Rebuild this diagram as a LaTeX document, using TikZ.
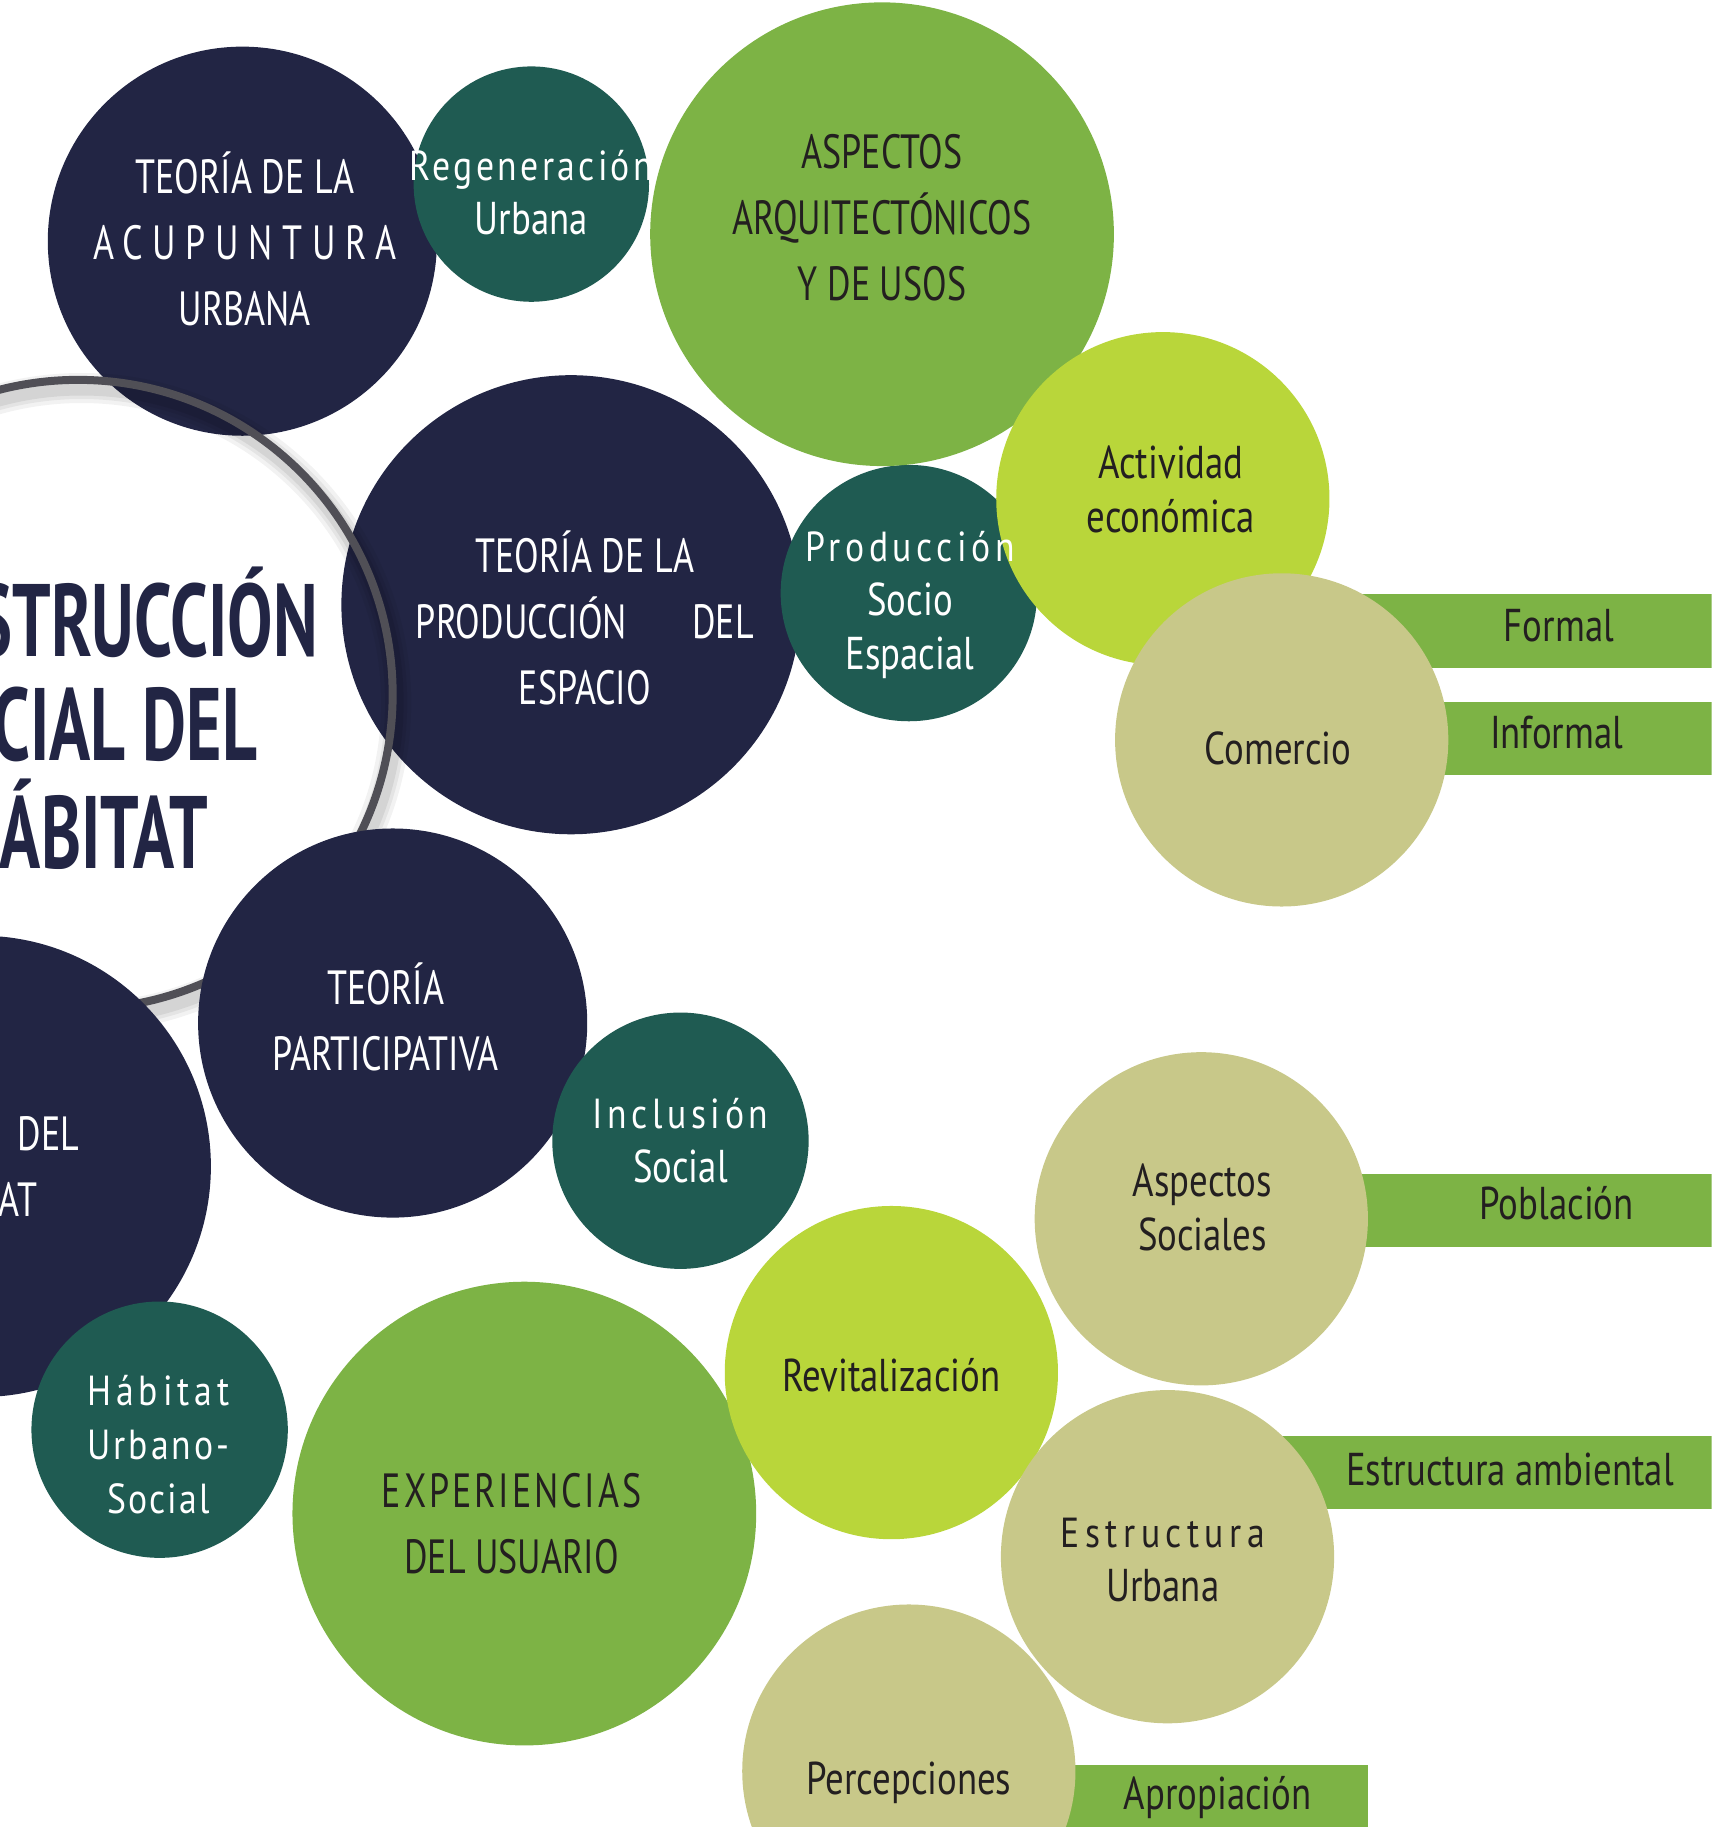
\documentclass[tikz,border=0pt]{standalone}
\usepackage{fontspec}
\setmainfont{PT Sans}
\newfontfamily\fcond[FakeStretch=0.8]{PT Sans}
\newfontfamily\fcaps[FakeStretch=0.75]{PT Sans}
\newfontfamily\fsp[FakeStretch=0.85]{PT Sans}
\newfontfamily\ftitle[FakeStretch=0.66]{PT Sans}
\definecolor{cnavy}{HTML}{222544}
\definecolor{cteal}{HTML}{1F5B52}
\definecolor{cgreen}{HTML}{7DB345}
\definecolor{clime}{HTML}{B9D63A}
\definecolor{ckhaki}{HTML}{C8C889}
\definecolor{cring}{HTML}{504F56}
\definecolor{cdark}{HTML}{231F20}
\begin{document}
\begin{tikzpicture}[x=1.1654pt,y=-1.1654pt,
  bub/.style={circle,inner sep=0pt,fill=#1},
  barbox/.style={rectangle,inner sep=0pt,fill=cgreen,anchor=north west,minimum height=73.4pt},
  wt/.style={text=white,align=center,inner sep=0pt},
  dk/.style={text=cdark,align=center,inner sep=0pt},
  capsf/.style={font=\fcaps\fontsize{48}{66}\selectfont},
  labf/.style={font=\fcond\fontsize{46}{54}\selectfont},
  spf/.style={font=\fsp\fontsize{42}{54}\selectfont},
  titf/.style={font=\ftitle\bfseries\fontsize{103}{107}\selectfont,text=cnavy,inner sep=0pt,anchor=base east}
]
\useasboundingbox (0,0) rectangle (1469,1568);
\clip (0,0) rectangle (1469,1568);

% bars
\node[barbox,minimum width=443pt] (barF) at (1100,510) {};
\node[barbox,minimum width=443pt] (barI) at (1100,602) {};
\node[barbox,minimum width=443pt] (barP) at (1100,1007) {};
\node[barbox,minimum width=501pt] (barE) at (1050,1232) {};
\node[barbox,minimum width=377.6pt,minimum height=80pt] (barA) at (850,1515) {};

% navy circles (behind ring)
\node[bub=cnavy,minimum size=389.2pt] (acu) at (208,207) {};
\node[bub=cnavy,minimum size=459.2pt] (pde) at (490,519) {};

% ring with soft shadow
\foreach \w/\o in {30/0.05,22/0.06,15/0.07}
  \draw[line width=\w pt,draw=black,opacity=\o] (70,603) circle (270);
\node[circle,draw=cring,line width=8pt,inner sep=0pt,minimum size=629.3pt] (ring) at (67,596) {};

% title
\node[titf] (t1) at (273,563) {CONSTRUCCIÓN};
\node[titf] (t2) at (221,653) {SOCIAL DEL};
\node[titf] (t3) at (179,745) {HÁBITAT};

% navy circles (over ring)
\node[bub=cnavy,minimum size=389.2pt] (par) at (337,878) {};
\node[bub=cnavy,minimum size=461.5pt] (hab) at (-17,1001) {};

% teal
\node[bub=cteal,minimum size=235.4pt] (reg) at (456,158) {};
\node[bub=cteal,minimum size=256.4pt] (pse) at (780,509) {};
\node[bub=cteal,minimum size=256.4pt] (inc) at (584,979) {};
\node[bub=cteal,minimum size=256.4pt] (hus) at (137,1227) {};

% green
\node[bub=cgreen,minimum size=463.8pt] (asp) at (757,201) {};
\node[bub=cgreen,minimum size=463.8pt] (exp) at (450,1299) {};

% lime
\node[bub=clime,minimum size=333.3pt] (act) at (998,428) {};
\node[bub=clime,minimum size=333.3pt] (rev) at (765,1178) {};

% khaki
\node[bub=ckhaki,minimum size=333.3pt] (com) at (1100,635) {};
\node[bub=ckhaki,minimum size=333.3pt] (aso) at (1031,1046) {};
\node[bub=ckhaki,minimum size=333.3pt] (est) at (1002,1336) {};
\node[bub=ckhaki,minimum size=333.3pt] (per) at (780,1520) {};

% texts
\node[wt,capsf] (acuT) at (210,205) {TEORÍA DE LA\\{\addfontfeature{LetterSpace=20}ACUPUNTURA}\\URBANA};
\node[wt,spf] (regT) at (456,165) {{\addfontfeature{LetterSpace=8}Regeneración}\\{\fcond\fontsize{46}{54}\selectfont Urbana}};
\node[dk,capsf] (aspT) at (757,187) {ASPECTOS\\ARQUITECTÓNICOS\\Y DE USOS};
\node[wt,capsf] (pdeT) at (502,530) {TEORÍA DE LA\\\hbox to 338pt{PRODUCCIÓN\hfill DEL}\\ESPACIO};
\node[wt,labf] (pseT) at (781,519) {{\fsp\fontsize{42}{54}\selectfont\addfontfeature{LetterSpace=11}Producción}\\Socio\\Espacial};
\node[dk,labf] (actT) at (1005,420) {Actividad\\económica};
\node[dk,labf] (comT) at (1097,642) {Comercio};
\node[dk,labf] (forT) at (1338,537) {Formal};
\node[dk,labf] (infT) at (1336,629) {Informal};
\node[wt,capsf] (parT) at (331,873) {TEORÍA\\PARTICIPATIVA};
\node[wt,capsf,anchor=east] (habT) at (68,998) {\hbox to 300pt{TEORÍA\hfill DEL}\\\hbox to 300pt{\hfill HÁBITAT\hspace*{42pt}}};
\node[wt,labf] (incT) at (584,979) {{\fsp\fontsize{42}{54}\selectfont\addfontfeature{LetterSpace=11}Inclusión}\\Social};
\node[dk,labf] (asoT) at (1032,1036) {Aspectos\\Sociales};
\node[dk,labf] (pobT) at (1336,1033) {Población};
\node[dk,labf] (revT) at (765,1180) {Revitalización};
\node[dk,labf] (eamT) at (1296,1261) {Estructura ambiental};
\node[dk,labf] (estT) at (998,1339) {{\fsp\fontsize{42}{54}\selectfont\addfontfeature{LetterSpace=13}Estructura}\\Urbana};
\node[wt,spf] (husT) at (136,1240) {{\addfontfeature{LetterSpace=12}Hábitat}\\{\addfontfeature{LetterSpace=7}Urbano-}\\{\addfontfeature{LetterSpace=5}Social}};
\node[dk,capsf] (expT) at (439,1308) {{\addfontfeature{LetterSpace=6}EXPERIENCIAS}\\DEL USUARIO};
\node[dk,labf] (perT) at (780,1530) {Percepciones};
\node[dk,labf] (aprT) at (1045,1543) {Apropiación};
\end{tikzpicture}
\end{document}
